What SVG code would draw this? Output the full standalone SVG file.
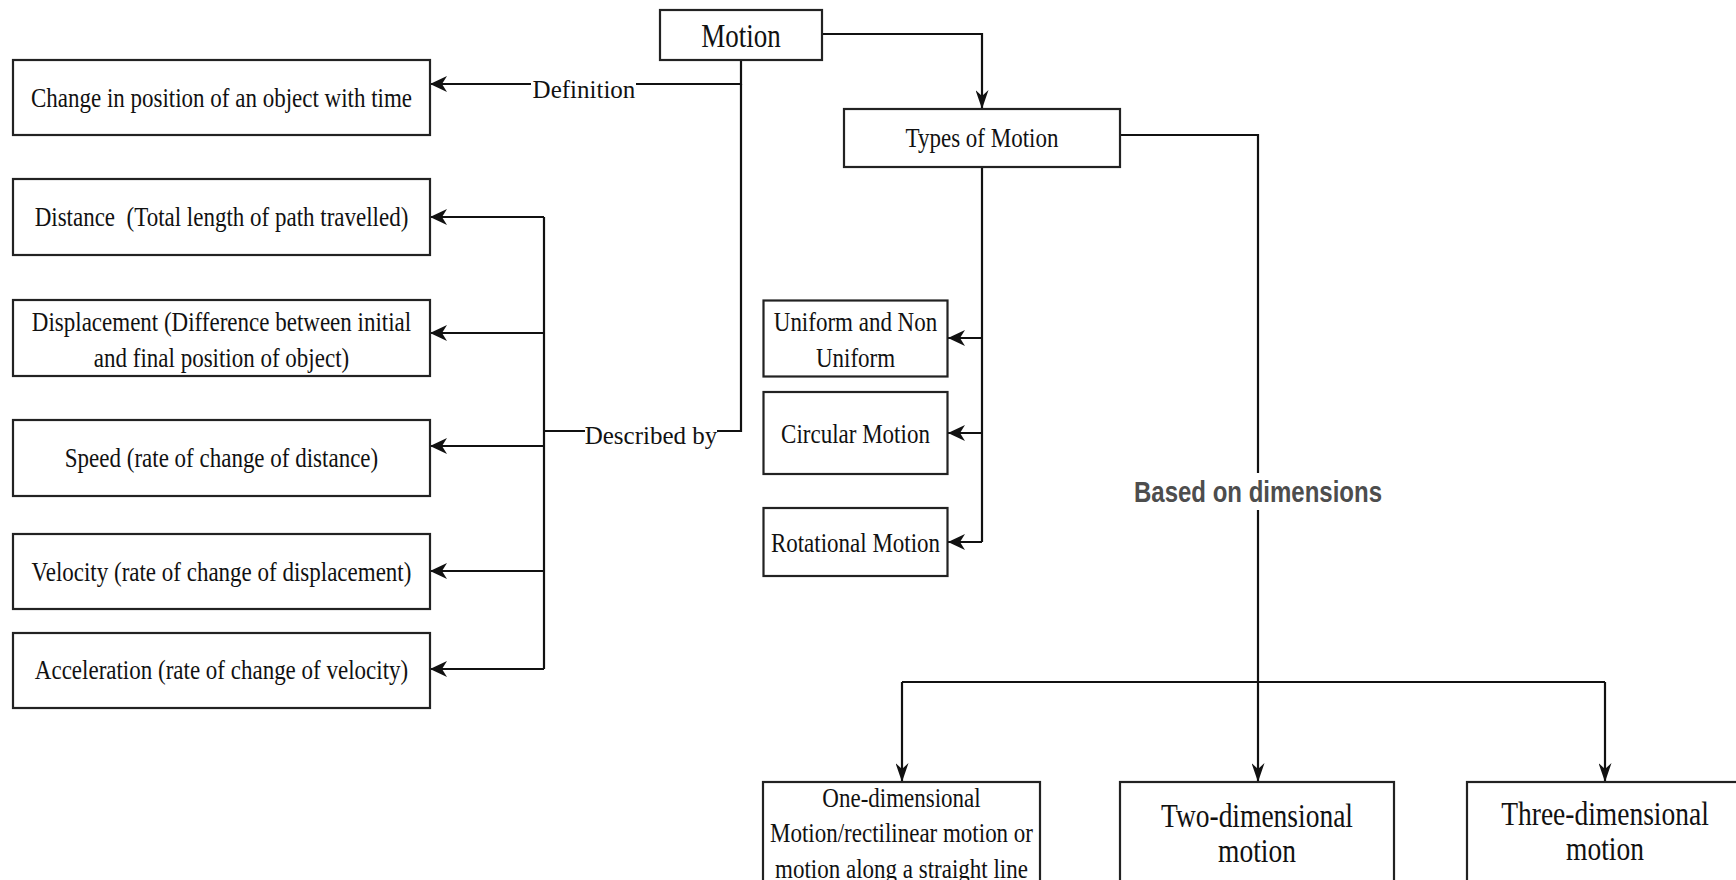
<svg xmlns="http://www.w3.org/2000/svg" width="1736" height="880" viewBox="0 0 1736 880">
<style>
.box{fill:#fff;stroke:#222;stroke-width:2.2}
.ln{fill:none;stroke:#111;stroke-width:2.2}
.t{font-family:"Liberation Serif","Times New Roman",serif;font-size:23px;fill:#111;text-anchor:middle}
.lbl{font-family:"Liberation Serif","Times New Roman",serif;font-size:25px;fill:#111;text-anchor:middle}
.big{font-size:27.5px}
.bold{font-family:"Liberation Sans",Arial,sans-serif;font-weight:bold;font-size:24px;fill:#4d4d4d;text-anchor:middle}
</style>
<defs>
<marker id="ah" viewBox="0 0 17 16" refX="17" refY="8" markerWidth="17" markerHeight="16" markerUnits="userSpaceOnUse" orient="auto">
<path d="M17,8 L0,0 L5,8 L0,16 Z" fill="#111"/>
</marker>
<marker id="av" viewBox="0 0 19 13" refX="19" refY="6.5" markerWidth="19" markerHeight="13" markerUnits="userSpaceOnUse" orient="auto">
<path d="M19,6.5 L0,0 L6,6.5 L0,13 Z" fill="#111"/>
</marker>
</defs>
<rect width="1736" height="880" fill="#fff"/>
<g id="connectors">
<path class="ln" d="M821,34 H982 V109" marker-end="url(#av)"/>
<path class="ln" d="M741,60 V84 H636"/>
<path class="ln" d="M531,84 H430" marker-end="url(#ah)"/>
<path class="ln" d="M741,84 V431 H717"/>
<path class="ln" d="M585,431 H544"/>
<path class="ln" d="M544,217 V669"/>
<path class="ln" d="M544,217 H430" marker-end="url(#ah)"/>
<path class="ln" d="M544,333 H430" marker-end="url(#ah)"/>
<path class="ln" d="M544,446 H430" marker-end="url(#ah)"/>
<path class="ln" d="M544,571 H430" marker-end="url(#ah)"/>
<path class="ln" d="M544,669 H430" marker-end="url(#ah)"/>
<path class="ln" d="M982,167 V542"/>
<path class="ln" d="M982,338 H948" marker-end="url(#ah)"/>
<path class="ln" d="M982,433 H948" marker-end="url(#ah)"/>
<path class="ln" d="M982,542 H948" marker-end="url(#ah)"/>
<path class="ln" d="M1120,135 H1258 V473"/>
<path class="ln" d="M1258,510 V682"/>
<path class="ln" d="M902,682 H1605"/>
<path class="ln" d="M902,682 V782" marker-end="url(#av)"/>
<path class="ln" d="M1258,682 V782" marker-end="url(#av)"/>
<path class="ln" d="M1605,682 V782" marker-end="url(#av)"/>
<text class="lbl" x="584" y="98">Definition</text>
<text class="lbl" x="651" y="444">Described by</text>
<text class="bold" transform="translate(1258 501.5) scale(1 1.22)">Based on dimensions</text>
</g>
<g id="motion">
<rect class="box" x="660" y="10" width="162" height="50"/>
<text class="t" style="font-size:27px" transform="translate(741 47) scale(1 1.22)">Motion</text>
</g>
<g id="change">
<rect class="box" x="13" y="60" width="417" height="75"/>
<text class="t" transform="translate(221.5 107) scale(1 1.22)">Change in position of an object with time</text>
</g>
<g id="distance">
<rect class="box" x="13" y="179" width="417" height="76"/>
<text class="t" xml:space="preserve" transform="translate(221.5 226) scale(1 1.22)">Distance  (Total length of path travelled)</text>
</g>
<g id="displacement">
<rect class="box" x="13" y="300" width="417" height="76"/>
<text class="t" transform="translate(221.5 331) scale(1 1.22)"><tspan x="0" y="0">Displacement (Difference between initial</tspan><tspan x="0" y="29.5">and final position of object)</tspan></text>
</g>
<g id="speed">
<rect class="box" x="13" y="420" width="417" height="76"/>
<text class="t" transform="translate(221.5 467) scale(1 1.22)">Speed (rate of change of distance)</text>
</g>
<g id="velocity">
<rect class="box" x="13" y="534" width="417" height="75"/>
<text class="t" transform="translate(221.5 581) scale(1 1.22)">Velocity (rate of change of displacement)</text>
</g>
<g id="acceleration">
<rect class="box" x="13" y="633" width="417" height="75"/>
<text class="t" transform="translate(221.5 679) scale(1 1.22)">Acceleration (rate of change of velocity)</text>
</g>
<g id="types">
<rect class="box" x="844" y="109" width="276" height="58"/>
<text class="t" transform="translate(982 147) scale(1 1.22)">Types of Motion</text>
</g>
<g id="uniform">
<rect class="box" x="763.5" y="300.5" width="184" height="76"/>
<text class="t" transform="translate(855.5 331) scale(1 1.22)"><tspan x="0" y="0">Uniform and Non</tspan><tspan x="0" y="29.5">Uniform</tspan></text>
</g>
<g id="circular">
<rect class="box" x="763.5" y="392" width="184" height="82"/>
<text class="t" transform="translate(855.5 443) scale(1 1.22)">Circular Motion</text>
</g>
<g id="rotational">
<rect class="box" x="763.5" y="508" width="184" height="68"/>
<text class="t" transform="translate(855.5 551.5) scale(1 1.22)">Rotational Motion</text>
</g>
<g id="one-dimensional">
<rect class="box" x="763" y="782" width="277" height="120"/>
<text class="t" transform="translate(901.5 807) scale(1 1.22)"><tspan x="0" y="0">One-dimensional</tspan><tspan x="0" y="29">Motion/rectilinear motion or</tspan><tspan x="0" y="58">motion along a straight line</tspan></text>
</g>
<g id="two-dimensional">
<rect class="box" x="1120" y="782" width="274" height="120"/>
<text class="t big" transform="translate(1257 827) scale(1 1.22)"><tspan x="0" y="0">Two-dimensional</tspan><tspan x="0" y="28.5">motion</tspan></text>
</g>
<g id="three-dimensional">
<rect class="box" x="1467" y="782" width="276" height="120"/>
<text class="t big" transform="translate(1605 825) scale(1 1.22)"><tspan x="0" y="0">Three-dimensional</tspan><tspan x="0" y="28.5">motion</tspan></text>
</g>
</svg>
